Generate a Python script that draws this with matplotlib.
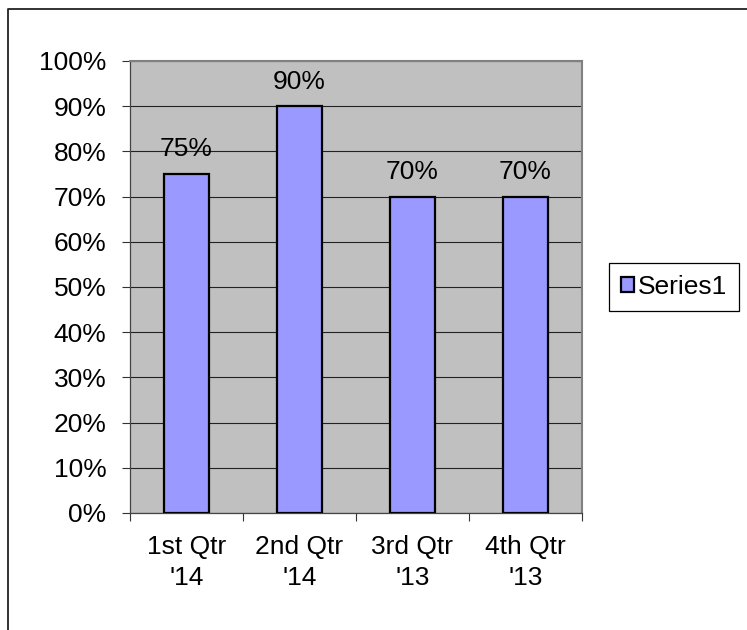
import matplotlib
matplotlib.use("Agg")
from matplotlib import pyplot as plt
from matplotlib.lines import Line2D
from matplotlib.ticker import FuncFormatter, FixedLocator
import numpy as np

quarters = ["1st Qtr\n'14", "2nd Qtr\n'14", "3rd Qtr\n'13", "4th Qtr\n'13"]
series1 = [0.75, 0.90, 0.70, 0.70]
series_name = "Series1"

plt.rcParams["font.family"] = ["Liberation Sans", "DejaVu Sans"]
plt.rcParams["font.size"] = 19

W, H = 747, 630
fig = plt.figure(figsize=(W / 100, H / 100), dpi=100)
ax = fig.add_axes([130 / W, (H - 513) / H, 452 / W, 452 / H])
ax.set_facecolor("#C0C0C0")

x = np.arange(len(quarters))
bars = ax.bar(x, series1, width=0.4, color="#9999FF", edgecolor="black",
              linewidth=1.6, label=series_name, zorder=3)
ax.bar_label(bars, labels=["{:.0%}".format(v) for v in series1], padding=9,
             fontsize=19)

ax.set_xlim(-0.5, len(quarters) - 0.5)
ax.set_ylim(0, 1)
ax.yaxis.set_major_locator(FixedLocator(np.arange(0, 1.01, 0.1)))
ax.yaxis.set_major_formatter(FuncFormatter(lambda v, _: "{:.0%}".format(v)))
ax.grid(axis="y", color="#222222", linewidth=0.8, zorder=1)
ax.set_axisbelow(True)

ax.set_xticks(x)
ax.set_xticklabels(quarters, linespacing=1.38)
ax.set_xticks(np.arange(-0.5, len(quarters), 1.0), minor=True)
ax.tick_params(axis="x", which="major", length=0, pad=16)
ax.tick_params(axis="x", which="minor", length=6, width=0.8, color="#333333",
               direction="out")
ax.tick_params(axis="y", length=6, width=0.8, color="#333333", pad=11)

for side in ("top", "right"):
    ax.spines[side].set_color("#808080")
    ax.spines[side].set_linewidth(1.5)
for side in ("left", "bottom"):
    ax.spines[side].set_color("#444444")
    ax.spines[side].set_linewidth(0.9)

fig.legend(loc="center", bbox_to_anchor=(674 / W, 1 - 287 / H),
           frameon=True, fancybox=False, edgecolor="black", framealpha=1,
           handlelength=0.5, handleheight=0.5, handletextpad=0.15,
           borderpad=0.45, borderaxespad=0, fontsize=19)
fig.legends[0].get_frame().set_linewidth(0.9)

# chart-area border: only the top and left edges fall inside the image
fig.add_artist(Line2D([7.5 / W, 7.5 / W, 1.0], [0.0, 1 - 9 / H, 1 - 9 / H],
                      transform=fig.transFigure, color="#222222", linewidth=1.3))

fig.savefig("out.png", dpi=100)
